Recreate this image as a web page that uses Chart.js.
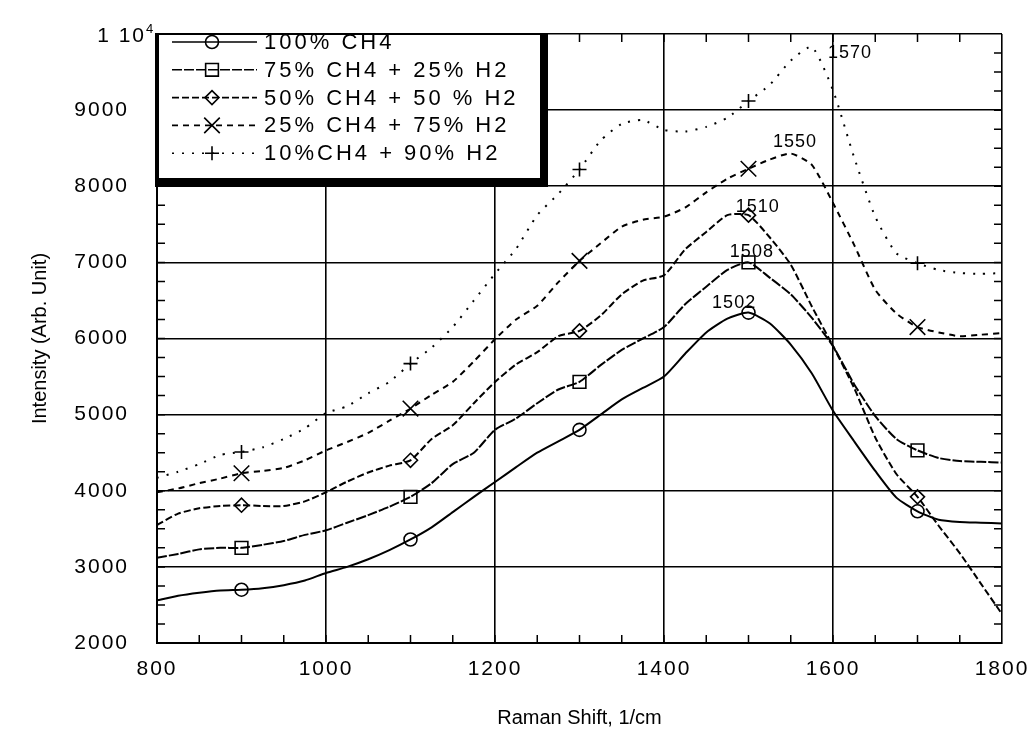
<!DOCTYPE html>
<html>
<head>
<meta charset="utf-8">
<script src="https://cdn.jsdelivr.net/npm/chart.js@4.4.1/dist/chart.umd.min.js"></script>
<style>
  html, body { margin: 0; padding: 0; background: #fff; }
  #wrap { width: 1036px; height: 749px; }
</style>
</head>
<body>
<div id="wrap"><canvas id="ramanChart" width="1036" height="749"></canvas></div>
<script>
// Raman shift, 1/cm
const shifts = [800, 825, 850, 875, 900, 925, 950, 975, 1000, 1025, 1050, 1075, 1100, 1125, 1150, 1175,
  1200, 1225, 1250, 1275, 1300, 1325, 1350, 1375, 1400, 1425, 1450, 1475, 1500, 1525, 1550, 1575,
  1600, 1625, 1650, 1675, 1700, 1725, 1750, 1775, 1800];

// intensity (arb. unit)
const ch4_100 = [2560, 2620, 2660, 2690, 2700, 2720, 2760, 2820, 2920, 3000, 3100, 3220, 3360, 3520, 3720, 3920,
  4115, 4310, 4500, 4650, 4800, 5000, 5200, 5350, 5500, 5800, 6080, 6260, 6340, 6200, 5920, 5540,
  5050, 4650, 4260, 3910, 3730, 3620, 3590, 3580, 3570];
const ch4_75 = [3120, 3170, 3230, 3250, 3250, 3290, 3340, 3420, 3480, 3580, 3680, 3790, 3920, 4100, 4350, 4500,
  4800, 4950, 5150, 5330, 5430, 5650, 5850, 6000, 6150, 6450, 6680, 6900, 7000, 6800, 6580, 6270,
  5900, 5400, 4980, 4680, 4530, 4430, 4390, 4380, 4370];
const ch4_50 = [3550, 3700, 3770, 3800, 3810, 3800, 3800, 3860, 3980, 4120, 4240, 4330, 4400, 4680, 4860, 5150,
  5430, 5660, 5820, 6030, 6100, 6300, 6580, 6760, 6830, 7170, 7400, 7620, 7620, 7330, 6970, 6420,
  5900, 5350, 4700, 4220, 3920, 3540, 3180, 2780, 2380];
const ch4_25 = [3980, 4030, 4100, 4160, 4230, 4260, 4300, 4400, 4530, 4640, 4760, 4920, 5080, 5260, 5430, 5700,
  5990, 6250, 6430, 6740, 7020, 7250, 7470, 7560, 7600, 7720, 7920, 8100, 8230, 8350, 8430, 8280,
  7780, 7230, 6640, 6330, 6150, 6080, 6030, 6050, 6070];
const ch4_10 = [4170, 4250, 4350, 4470, 4510, 4570, 4680, 4820, 5020, 5110, 5280, 5430, 5670, 5880, 6150, 6500,
  6850, 7180, 7620, 7900, 8220, 8600, 8820, 8870, 8740, 8720, 8780, 8900, 9120, 9330, 9650, 9830,
  9260, 8380, 7600, 7120, 6990, 6900, 6860, 6850, 6860];

const seriesNames = ['100% CH4', '75% CH4 + 25% H2', '50% CH4 + 50 % H2', '25% CH4 + 75% H2', '10%CH4 + 90% H2'];
const markerShifts = [900, 1100, 1300, 1500, 1700];
const peakNames = ['1570', '1550', '1510', '1508', '1502'];

const FONT = 'Liberation Sans, Arial, sans-serif';

const looks = [
  { dash: [], point: 'circle', r: 6.5 },
  { dash: [10, 2], point: 'rect', r: 9 },
  { dash: [7, 3], point: 'rectRot', r: 7 },
  { dash: [6, 5], point: 'crossRot', r: 11 },
  { dash: [2, 8], point: 'cross', r: 7 }
];

const allSeries = [ch4_100, ch4_75, ch4_50, ch4_25, ch4_10];

const datasets = allSeries.map((vals, i) => ({
  label: seriesNames[i],
  data: shifts.map((x, j) => ({ x: x, y: vals[j] })),
  borderColor: '#000',
  borderWidth: 2,
  borderDash: looks[i].dash,
  tension: 0.2,
  fill: false,
  pointStyle: looks[i].point,
  markerRadius: looks[i].r,
  pointRadius: (c) => markerShifts.includes(shifts[c.dataIndex]) ? looks[i].r : 0,
  pointBorderColor: '#000',
  pointBackgroundColor: 'rgba(0,0,0,0)',
  pointBorderWidth: 1.6
}));

// small inward ticks on all four sides
const minorTicks = {
  id: 'minorTicks',
  afterDatasetsDraw(chart) {
    const { ctx, chartArea: a, scales } = chart;
    ctx.save();
    ctx.strokeStyle = '#000';
    ctx.lineWidth = 1.5;
    ctx.beginPath();
    for (let x = 850; x < 1800; x += 50) {
      const px = scales.x.getPixelForValue(x);
      ctx.moveTo(px, a.bottom); ctx.lineTo(px, a.bottom - 8);
      ctx.moveTo(px, a.top); ctx.lineTo(px, a.top + 8);
    }
    for (let y = 2250; y < 10000; y += 250) {
      const py = scales.y.getPixelForValue(y);
      ctx.moveTo(a.left, py); ctx.lineTo(a.left + 8, py);
      ctx.moveTo(a.right, py); ctx.lineTo(a.right - 8, py);
    }
    ctx.stroke();
    ctx.restore();
  }
};

// peak position labels
const peakText = {
  id: 'peakText',
  afterDatasetsDraw(chart, args, opts) {
    const { ctx, scales } = chart;
    ctx.save();
    ctx.fillStyle = '#000';
    ctx.font = '18px ' + FONT;
    ctx.letterSpacing = '1px';
    ctx.textAlign = 'center';
    ctx.textBaseline = 'middle';
    opts.at.forEach((p, i) => {
      ctx.fillText(peakNames[i], scales.x.getPixelForValue(p[0]), scales.y.getPixelForValue(p[1]));
    });
    ctx.restore();
  }
};

// the top y label "1 10^4" with a raised exponent
const topLabel = {
  id: 'topLabel',
  afterDraw(chart) {
    const { ctx, scales } = chart;
    const y = scales.y.getPixelForValue(scales.y.max);
    ctx.save();
    ctx.fillStyle = '#000';
    ctx.letterSpacing = '2px';
    ctx.textBaseline = 'middle';
    ctx.textAlign = 'right';
    ctx.font = '21px ' + FONT;
    ctx.fillText('1 10', 146, y + 2);
    ctx.textAlign = 'left';
    ctx.font = '13px ' + FONT;
    ctx.fillText('4', 146, y - 5);
    ctx.restore();
  }
};

// tick labels are drawn after the datasets (ticks.z = 1); give them the wide spacing of the original
const spacing = {
  id: 'spacing',
  beforeDraw(chart) { chart.ctx.letterSpacing = '0px'; },
  afterDatasetsDraw(chart) { chart.ctx.letterSpacing = '2px'; },
  afterDraw(chart) { chart.ctx.letterSpacing = '0px'; }
};

// boxed legend with a heavy shadow, as in the original
const legendBox = {
  id: 'legendBox',
  afterDraw(chart) {
    const { ctx } = chart;
    ctx.save();
    ctx.fillStyle = '#fff';
    ctx.fillRect(157, 34, 384, 145);
    ctx.fillStyle = '#000';
    ctx.fillRect(155, 33, 393, 2);
    ctx.fillRect(155, 33, 4, 154);
    ctx.fillRect(540, 33, 8, 154);
    ctx.fillRect(155, 178, 393, 9);
    chart.data.datasets.forEach((ds, i) => {
      const y = 42 + i * 27.8;
      ctx.strokeStyle = '#000';
      ctx.lineWidth = 1.6;
      ctx.setLineDash(ds.borderDash);
      ctx.beginPath();
      ctx.moveTo(172, y);
      ctx.lineTo(257, y);
      ctx.stroke();
      ctx.setLineDash([]);
      ctx.fillStyle = 'rgba(0,0,0,0)';
      Chart.helpers.drawPoint(ctx, { pointStyle: ds.pointStyle, radius: ds.markerRadius, borderWidth: 1.6, rotation: 0 }, 212, y);
      ctx.fillStyle = '#000';
      ctx.font = '22px ' + FONT;
      ctx.letterSpacing = '3px';
      ctx.textAlign = 'left';
      ctx.textBaseline = 'middle';
      ctx.fillText(ds.label, 264, y + 1);
      ctx.letterSpacing = '0px';
    });
    ctx.restore();
  }
};

new Chart(document.getElementById('ramanChart'), {
  type: 'line',
  data: { datasets: datasets },
  plugins: [minorTicks, peakText, spacing, legendBox, topLabel],
  options: {
    responsive: false,
    maintainAspectRatio: false,
    animation: false,
    layout: { padding: { top: 34, right: 34, left: 0, bottom: 0 } },
    plugins: {
      legend: { display: false },
      tooltip: { enabled: false },
      peakText: { at: [[1620, 9756], [1555, 8575], [1511, 7722], [1504, 7131], [1483, 6462]] }
    },
    scales: {
      x: {
        type: 'linear',
        min: 800,
        max: 1800,
        afterFit: (s) => { s.height = 106; s.paddingLeft = 0; s.paddingRight = 0; },
        ticks: {
          z: 1,
          stepSize: 200,
          color: '#000',
          padding: 14,
          maxRotation: 0,
          font: { family: FONT, size: 21 },
          callback: (v) => String(v)
        },
        grid: { color: '#000', lineWidth: 1.6, drawTicks: false },
        border: { color: '#000', width: 2 },
        title: { display: true, text: 'Raman Shift, 1/cm', color: '#000', font: { family: FONT, size: 20 }, padding: { top: 0, bottom: 19 } }
      },
      y: {
        min: 2000,
        max: 10000,
        afterFit: (s) => { s.width = 157; s.paddingTop = 0; s.paddingBottom = 0; },
        ticks: {
          z: 1,
          stepSize: 1000,
          color: '#000',
          padding: 28,
          font: { family: FONT, size: 21 },
          callback: (v) => v === 10000 ? '' : String(v)
        },
        grid: { color: '#000', lineWidth: 1.6, drawTicks: false },
        border: { color: '#000', width: 2 },
        title: { display: true, text: 'Intensity (Arb. Unit)', color: '#000', font: { family: FONT, size: 20 }, padding: { top: 28, bottom: 0 } }
      }
    }
  }
});
</script>
</body>
</html>
